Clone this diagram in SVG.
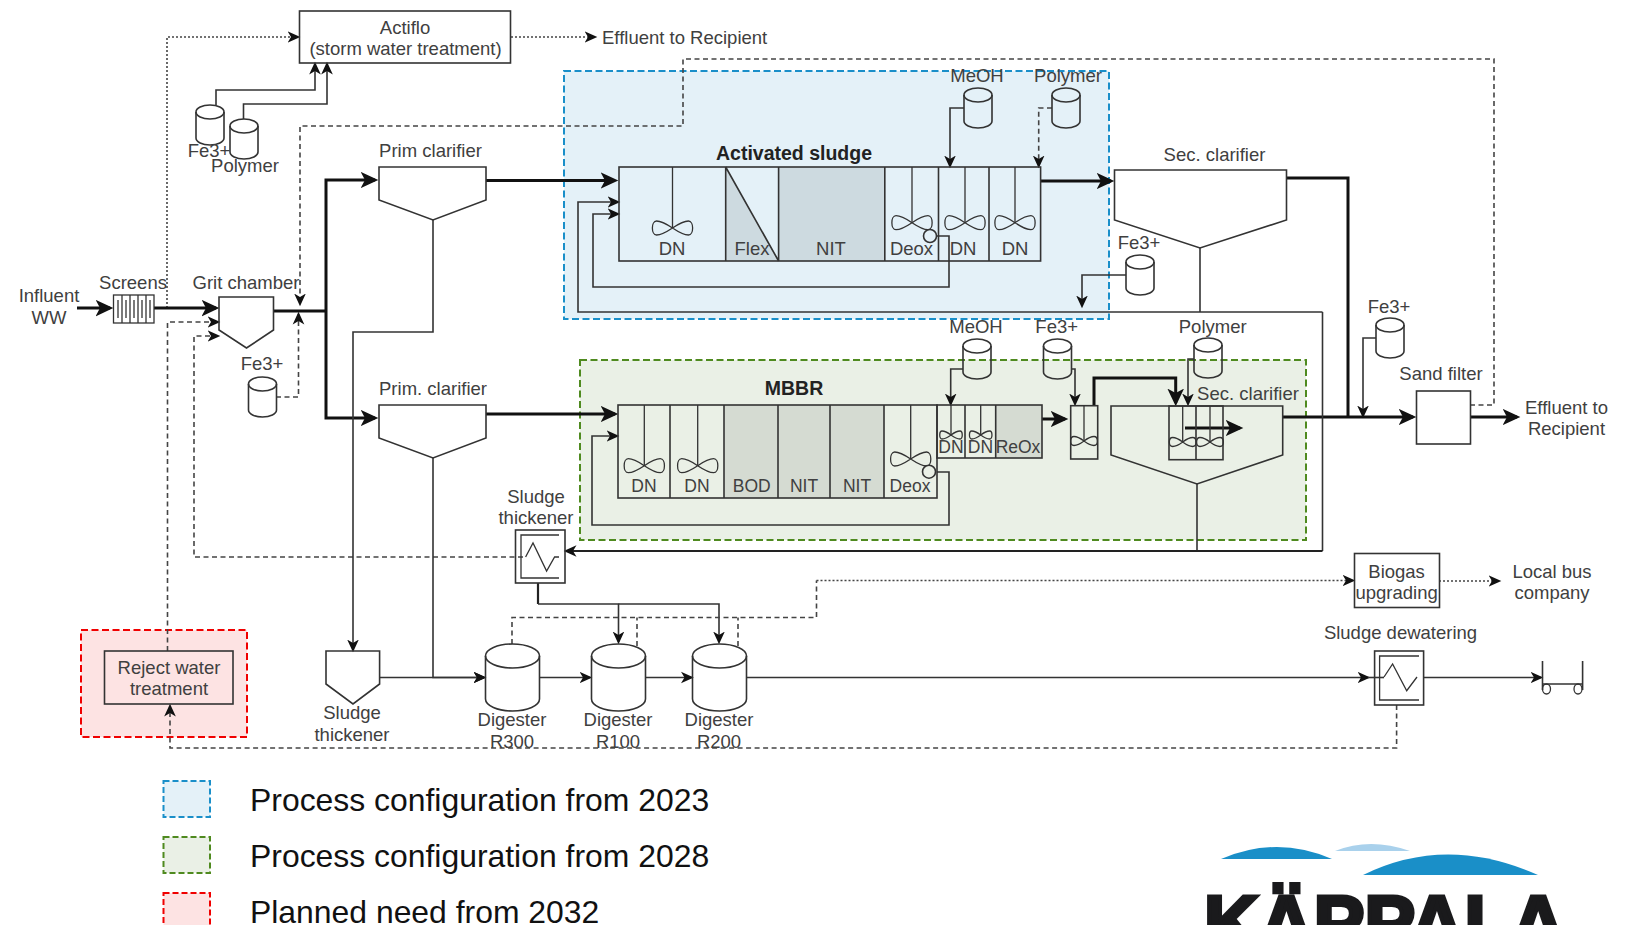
<svg xmlns="http://www.w3.org/2000/svg" width="1634" height="925" viewBox="0 0 1634 925">
<style>
text{font-family:"Liberation Sans",Arial,sans-serif;font-size:18.5px;fill:#404040;text-anchor:middle}
.s{font-size:17.5px}
.b{font-size:19.5px;font-weight:bold;fill:#222}
.leg{font-size:31.900px;fill:#111;text-anchor:start}
.logo{font-size:76px;font-weight:bold;fill:#1a1a1c;stroke:#1a1a1c;stroke-width:4;text-anchor:start}
.o{fill:none;stroke:#333;stroke-width:1.6}
.w{fill:none;stroke:#333;stroke-width:1.3}
.c{fill:none;stroke:#333;stroke-width:1.6}
.m{fill:none;stroke:#222;stroke-width:2.2}
.th{fill:none;stroke:#111;stroke-width:3}
.d{fill:none;stroke:#444;stroke-width:1.6;stroke-dasharray:5 3.500}
.dt{fill:none;stroke:#444;stroke-width:1.6;stroke-dasharray:2 2}
.ar{marker-end:url(#a)}
.tr{marker-end:url(#t)}
.g{fill:#cddae0}
.gg{fill:#d5dbd2}
</style>
<defs>
<marker id="a" markerUnits="userSpaceOnUse" markerWidth="14" markerHeight="14" refX="9" refY="6" orient="auto" viewBox="0 0 12 12"><path d="M0,1 L11,6 L0,11 L3,6Z" fill="#111"/></marker>
<marker id="t" markerUnits="userSpaceOnUse" markerWidth="20" markerHeight="20" refX="13" refY="9" orient="auto" viewBox="0 0 18 18"><path d="M0,1.500 L16,9 L0,16.500 L4,9Z" fill="#111"/></marker>
<g id="drum"><path d="M0,7 V33 A14,7 0 0 0 28,33 V7" class="o"/><ellipse cx="14" cy="7" rx="14" ry="7" class="o"/></g>
<path id="mix" d="M0,0 C-6,-4 -12,-7 -16,-7 C-21.500,-7 -21.500,7 -16,7 C-12,7 -6,4 0,0 C6,-4 12,-7 16,-7 C21.500,-7 21.500,7 16,7 C12,7 6,4 0,0Z" class="w"/>
<path id="mixs" d="M0,0 C-4,-3 -7,-4 -9,-4 C-12,-4 -12,4 -9,4 C-7,4 -4,3 0,0 C4,-3 7,-4 9,-4 C12,-4 12,4 9,4 C7,4 4,3 0,0Z" class="w"/>
<path id="mixm" d="M0,0 C-4,-3 -8,-4.500 -10,-4.500 C-14.500,-4.500 -14.500,4.500 -10,4.500 C-8,4.500 -4,3 0,0 C4,-3 8,-4.500 10,-4.500 C14.500,-4.500 14.500,4.500 10,4.500 C8,4.500 4,3 0,0Z" class="w"/>
</defs>

<g id="regions">
<rect x="564" y="71" width="545" height="248" fill="#e4f1f8" stroke="#1a8fc9" stroke-width="2" stroke-dasharray="7 3.500"/>
<rect x="580" y="360" width="726" height="180" fill="#eaf0e6" stroke="#4f8a1f" stroke-width="2" stroke-dasharray="7 3.500"/>
<rect x="81" y="630" width="166" height="107" fill="#fde3e3" stroke="#f00000" stroke-width="2" stroke-dasharray="7 3.500"/>
</g>

<g id="connectors">
<path class="dt ar" d="M167,308 V37 H298"/>
<path class="dt ar" d="M511,37 H595"/>
<path class="d ar" d="M1470,405 H1494 V59 H683 V126 H300 V304"/>
<path class="d ar" d="M276,397 H298.500 V314"/>
<path class="d ar" d="M167.500,651 V322 H218"/>
<path class="d ar" d="M523,557 H194 V336 H218"/>
<path class="c ar" d="M216,105 V90 H315 V64"/>
<path class="c ar" d="M243.500,119 V104 H327 V64"/>
<path class="th tr" d="M77,308 H110"/>
<path class="th tr" d="M154,308 H216"/>
<path class="th" d="M273,311 H326"/>
<path class="th tr" d="M326,311 V180 H375"/>
<path class="th tr" d="M326,311 V418 H375"/>
<path class="c ar" d="M433,220 V332 H353 V650"/>
<path class="c ar" d="M433,458 V677.500 H484"/>
<path class="th tr" d="M486,180.500 H615"/>
<path class="th tr" d="M486,414 H615"/>
<path class="th tr" d="M1040.500,181 H1111"/>
<path class="c" d="M1200,248 V312"/>
<path class="c ar" d="M1322.500,312 H578 V202 H618"/>
<path class="c ar" d="M937,236 H949 V287 H593 V214 H618"/>
<path class="c ar" d="M937,472 H949 V525 H592 V436 H617"/>
<path class="c ar" d="M964,108 H950 V166"/>
<path class="d ar" d="M1052,108 H1038.700 V166"/>
<path class="c ar" d="M1126,275 H1082 V306"/>
<path class="th" d="M1286,178 H1348 V417"/>
<path class="th tr" d="M1283,417 H1413"/>
<path class="th tr" d="M1470,417 H1517"/>
<path class="c ar" d="M1376,338 H1363 V416"/>
<path class="c ar" d="M963,369 H950.700 V404"/>
<path class="c ar" d="M1071,369 H1075 V404"/>
<path class="c ar" d="M1194,359 H1188 V404"/>
<path class="th tr" d="M1042,419 H1065"/>
<path class="th tr" d="M1094,405 V378 H1175.700 V403"/>
<path class="th tr" d="M1185,428 H1240"/>
<path class="c" d="M1197,484 V551"/>
<path class="c" d="M1322.500,312 V551"/>
<path class="m ar" d="M1322.500,551 H566"/>
<path class="m" d="M538,583 V604"/>
<path class="c ar" d="M538,604 H618.500 V642"/>
<path class="c ar" d="M618.500,604 H719 V642"/>
<path class="c ar" d="M380,677.500 H484"/>
<path class="c ar" d="M539,677.500 H590"/>
<path class="c ar" d="M645,677.500 H691.500"/>
<path class="c ar" d="M746,677.500 H1368"/>
<path class="c" d="M1368,677.500 H1384"/>
<path class="c ar" d="M1423.500,677.500 H1541"/>
<path class="d" d="M512,644 V617.500 H816.500 V580.500"/>
<path class="d" d="M637,646 V617.500"/>
<path class="d" d="M738,646 V617.500"/>
<path class="dt ar" d="M816.500,580.500 H1353"/>
<path class="dt ar" d="M1439,581 H1499"/>
<path class="d ar" d="M1396.600,705 V748 H170 V706"/>
</g>

<g id="actiflo"><rect x="299.500" y="11" width="211" height="52" class="o"/><text x="405" y="34">Actiflo</text><text x="405.500" y="55">(storm water treatment)</text></g>
<g id="effluent-top"><text x="602" y="44" style="text-anchor:start">Effluent to Recipient</text></g>
<g id="fe-actiflo"><use href="#drum" x="196" y="105"/><text x="209" y="157">Fe3+</text></g>
<g id="polymer-actiflo"><use href="#drum" x="230" y="119"/><text x="245" y="172">Polymer</text></g>
<g id="influent"><text x="49" y="302">Influent</text><text x="49" y="324">WW</text></g>
<g id="screens"><text x="133" y="289">Screens</text><rect x="113.500" y="295" width="40.500" height="28" class="w"/><path class="w" d="M118,300V318M122,295V323M126,300V318M130,295V323M134,300V318M138,295V323M142,300V318M146,295V323M150,300V318"/></g>
<g id="grit"><text x="246" y="289">Grit chamber</text><path class="o" d="M219,297 H273.500 V330 L246.500,348 L219,330Z"/></g>
<g id="fe-grit"><text x="262" y="370">Fe3+</text><use href="#drum" x="248.500" y="377"/></g>
<g id="prim1"><text x="430.500" y="157">Prim clarifier</text><path class="o" d="M379,167 H486 V200 L433,220 L379,200Z"/></g>
<g id="prim2"><text x="433" y="395">Prim. clarifier</text><path class="o" d="M379,405 H486 V438 L433,458 L379,438Z"/></g>

<g id="activated-sludge">
<text x="794" y="160" class="b">Activated sludge</text>
<path class="g" d="M725.700,167 L778.600,261 H725.700Z"/>
<rect class="g" x="778.600" y="167" width="106.200" height="94"/>
<rect class="o" x="619" y="167" width="421.600" height="94"/>
<path class="o" d="M725.700,167V261M778.600,167V261M884.800,167V261M938.500,167V261M989,167V261M725.700,167L778.600,261"/>
<path class="w" d="M672.500,167V228M912,167V222.700M965,167V222.700M1015,167V222.700"/>
<use href="#mix" x="672.500" y="228"/><use href="#mix" x="912" y="222.700"/><use href="#mix" x="965" y="222.700"/><use href="#mix" x="1015" y="222.700"/>
<circle cx="930" cy="236" r="6.500" fill="#e4f1f8" stroke="#333" stroke-width="1.600"/>
<text x="672" y="255">DN</text><text x="752" y="255">Flex</text><text x="831" y="255">NIT</text><text x="911.500" y="255">Deox</text><text x="963" y="255">DN</text><text x="1015" y="255">DN</text>
</g>
<g id="meoh1"><text x="977" y="82">MeOH</text><use href="#drum" x="964" y="88"/></g>
<g id="polymer1"><text x="1068" y="82">Polymer</text><use href="#drum" x="1052" y="88"/></g>
<g id="fe-as"><text x="1139" y="249">Fe3+</text><use href="#drum" x="1126" y="255"/></g>
<g id="sec1"><text x="1214.500" y="161">Sec. clarifier</text><path class="o" d="M1114.500,170 H1286.500 V220 L1200,248 L1114.500,220Z"/></g>
<g id="fe-sand"><text x="1389" y="313">Fe3+</text><use href="#drum" x="1376" y="318"/></g>
<g id="sand-filter"><text x="1441" y="380">Sand filter</text><rect x="1416.500" y="391" width="54" height="53" class="o"/></g>
<g id="effluent-right"><text x="1566.500" y="414">Effluent to</text><text x="1566.500" y="435">Recipient</text></g>

<g id="mbbr">
<text x="794" y="395" class="b">MBBR</text>
<rect class="gg" x="724" y="405" width="160" height="93"/>
<rect class="o" x="618" y="405" width="319" height="93"/>
<path class="o" d="M670,405V498M724,405V498M778,405V498M830,405V498M884,405V498"/>
<path class="w" d="M644.300,405V465.700M697.700,405V465.700M910.700,405V459"/>
<use href="#mix" x="644.300" y="465.700"/><use href="#mix" x="697.700" y="465.700"/><use href="#mix" x="910.700" y="459"/>
<circle cx="929" cy="471.700" r="6.500" fill="#eaf0e6" stroke="#333" stroke-width="1.600"/>
<text class="s" x="644" y="492">DN</text><text class="s" x="697" y="492">DN</text><text class="s" x="751.700" y="492">BOD</text><text class="s" x="804" y="492">NIT</text><text class="s" x="857" y="492">NIT</text><text class="s" x="910" y="492">Deox</text>
<rect class="gg" x="995.700" y="405" width="46.300" height="53"/>
<rect class="o" x="937" y="405" width="105" height="53"/>
<path class="o" d="M965,405V458M995.700,405V458"/>
<path class="w" d="M951,405V435M980.700,405V435"/>
<use href="#mixs" x="951" y="435"/><use href="#mixs" x="980.700" y="435"/>
<text class="s" x="951" y="453">DN</text><text class="s" x="980.500" y="453">DN</text><text class="s" x="1018" y="453">ReOx</text>
</g>
<g id="meoh2"><text x="976" y="333">MeOH</text><use href="#drum" x="963" y="339"/></g>
<g id="fe-mbbr"><text x="1056.700" y="333">Fe3+</text><use href="#drum" x="1043.500" y="339"/></g>
<g id="polymer2"><text x="1212.700" y="333">Polymer</text><use href="#drum" x="1194" y="338"/></g>
<g id="floc1"><rect class="o" x="1070.700" y="405.700" width="27" height="53.300"/><path class="w" d="M1084,405.700V441"/><use href="#mixm" x="1084" y="441"/></g>
<g id="sec2">
<text x="1248" y="400">Sec. clarifier</text>
<path class="o" d="M1111,406 H1282.700 V455 L1197,484 L1111,455Z"/>
<rect class="o" x="1169" y="406" width="54" height="53.700"/>
<path class="o" d="M1196,406V459.700"/>
<path class="w" d="M1182.700,406V442M1210,406V442"/>
<use href="#mixm" x="1182.700" y="442"/><use href="#mixm" x="1210" y="442"/>
</g>

<g id="thickener-top">
<text x="536" y="503">Sludge</text><text x="536" y="524">thickener</text>
<rect class="o" x="515.500" y="530" width="49.500" height="53"/>
<path class="w" d="M559,535H521V578H559"/>
<path class="w" d="M525.600,557L533,543L546.600,571L554.600,557H559"/>
</g>
<g id="biogas"><rect class="o" x="1354.500" y="553.500" width="85" height="54"/><text x="1396.600" y="578">Biogas</text><text x="1396.600" y="599">upgrading</text></g>
<g id="bus"><text x="1552" y="578">Local bus</text><text x="1552" y="599">company</text></g>
<g id="reject"><rect class="o" x="104.500" y="651" width="128.500" height="53"/><text x="169" y="674">Reject water</text><text x="169" y="695">treatment</text></g>
<g id="thickener-bottom"><path class="o" d="M326,651 H379.600 V684 L353,704 L326,684Z"/><text x="352" y="719">Sludge</text><text x="352" y="741">thickener</text></g>
<g id="r300"><path class="o" d="M485.500,656 V699 A27,12 0 0 0 539.500,699 V656"/><ellipse class="o" cx="512.500" cy="656" rx="27" ry="12"/><text x="512" y="726">Digester</text><text x="512" y="748">R300</text></g>
<g id="r100"><path class="o" d="M591.500,656 V699 A27,12 0 0 0 645.500,699 V656"/><ellipse class="o" cx="618.500" cy="656" rx="27" ry="12"/><text x="618" y="726">Digester</text><text x="618" y="748">R100</text></g>
<g id="r200"><path class="o" d="M692.500,656 V699 A27,12 0 0 0 746.500,699 V656"/><ellipse class="o" cx="719.500" cy="656" rx="27" ry="12"/><text x="719" y="726">Digester</text><text x="719" y="748">R200</text></g>
<g id="dewatering"><text x="1400.500" y="638.500">Sludge dewatering</text><rect class="o" x="1374.600" y="651" width="49" height="54"/><path class="w" d="M1419,656H1379.600V700H1419"/><path class="w" d="M1384,677L1392.600,664L1406.700,690.700L1417,677"/></g>
<g id="cart"><path class="o" d="M1542.500,661V690M1582.600,661V690M1542.500,684H1582.600"/><ellipse class="w" cx="1546.500" cy="689" rx="4" ry="5"/><ellipse class="w" cx="1578" cy="689" rx="4" ry="5"/></g>

<g id="legend">
<rect x="163.500" y="781" width="46.500" height="36" fill="#e4f1f8" stroke="#1a8fc9" stroke-width="2" stroke-dasharray="6 3"/>
<rect x="163.500" y="837" width="46.500" height="36" fill="#eaf0e6" stroke="#4f8a1f" stroke-width="2" stroke-dasharray="6 3"/>
<rect x="163.500" y="893" width="46.500" height="36" fill="#fde3e3" stroke="#f00000" stroke-width="2" stroke-dasharray="6 3"/>
<text class="leg" x="250" y="810.500">Process configuration from 2023</text>
<text class="leg" x="250" y="867">Process configuration from 2028</text>
<text class="leg" x="250" y="923">Planned need from 2032</text>
</g>
<g id="logo">
<path d="M1221,859 Q1277,835 1332,859Z" fill="#1a8fc8"/>
<path d="M1335,851 Q1370,837 1410,851Z" fill="#a9d1ec"/>
<path d="M1363,875 Q1446,834 1538,875Z" fill="#1a8fc8"/>
<text class="logo" x="1204" y="949">KÄPPALA</text>
</g>
</svg>
